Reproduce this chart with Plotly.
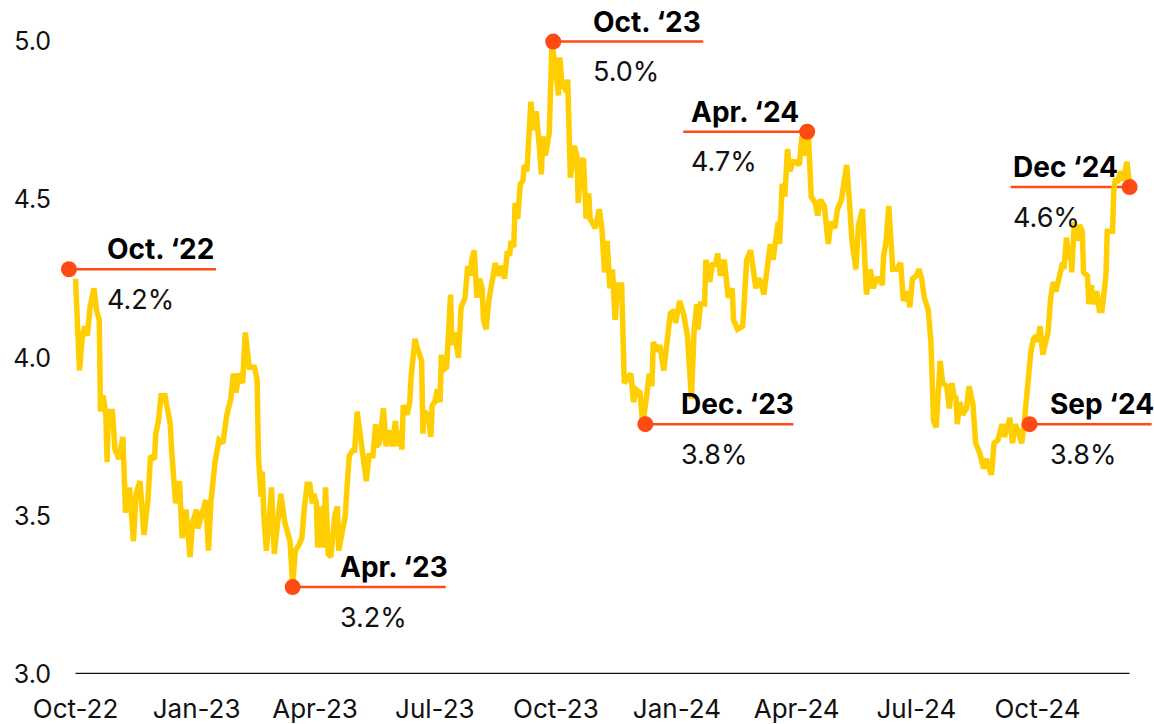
import plotly.graph_objects as go

dates = [
"2022-10-01","2022-10-04","2022-10-06","2022-10-08","2022-10-10","2022-10-12","2022-10-15","2022-10-17","2022-10-19","2022-10-20",
"2022-10-22","2022-10-24","2022-10-25","2022-10-26","2022-10-29","2022-10-31","2022-11-03","2022-11-06","2022-11-08","2022-11-11",
"2022-11-14","2022-11-16","2022-11-19","2022-11-22","2022-11-25","2022-11-27","2022-11-30","2022-12-01","2022-12-03","2022-12-05",
"2022-12-08","2022-12-12","2022-12-13","2022-12-14","2022-12-16","2022-12-19","2022-12-21","2022-12-24","2022-12-27","2022-12-29",
"2023-01-01","2023-01-02","2023-01-05","2023-01-08","2023-01-10","2023-01-12","2023-01-15","2023-01-18","2023-01-21","2023-01-24",
"2023-01-27","2023-01-29","2023-01-31","2023-02-02","2023-02-05","2023-02-07","2023-02-10","2023-02-14","2023-02-16","2023-02-17",
"2023-02-19","2023-02-20","2023-02-21","2023-02-23","2023-02-25","2023-02-27","2023-03-01","2023-03-04","2023-03-06","2023-03-09",
"2023-03-13","2023-03-15","2023-03-17","2023-03-20","2023-03-22","2023-03-24","2023-03-26","2023-03-28","2023-03-30","2023-03-31",
"2023-04-02","2023-04-03","2023-04-05","2023-04-07","2023-04-09","2023-04-11","2023-04-13","2023-04-16","2023-04-18","2023-04-19",
"2023-04-22","2023-04-24","2023-04-25","2023-04-27","2023-04-30","2023-05-01","2023-05-03","2023-05-06","2023-05-10","2023-05-12",
"2023-05-15","2023-05-17","2023-05-18","2023-05-20","2023-05-23","2023-05-25","2023-05-27","2023-05-30","2023-06-01","2023-06-03",
"2023-06-04","2023-06-06","2023-06-07","2023-06-10","2023-06-12","2023-06-13","2023-06-15","2023-06-16","2023-06-17","2023-06-21",
"2023-06-22","2023-06-23","2023-06-26","2023-06-28","2023-06-29","2023-07-01","2023-07-03","2023-07-05","2023-07-06","2023-07-07",
"2023-07-10","2023-07-11","2023-07-13","2023-07-14","2023-07-16","2023-07-19","2023-07-21","2023-07-24","2023-07-26","2023-07-28",
"2023-07-29","2023-07-31","2023-08-02","2023-08-04","2023-08-06","2023-08-07","2023-08-09","2023-08-11","2023-08-13","2023-08-16",
"2023-08-18","2023-08-21","2023-08-23","2023-08-25","2023-08-27","2023-08-28","2023-08-30","2023-08-31","2023-09-02","2023-09-04",
"2023-09-06","2023-09-07","2023-09-09","2023-09-10","2023-09-12","2023-09-14","2023-09-16","2023-09-18","2023-09-20","2023-09-21",
"2023-09-23","2023-09-26","2023-09-28","2023-09-30","2023-10-01","2023-10-03","2023-10-04","2023-10-06","2023-10-07","2023-10-09",
"2023-10-10","2023-10-12","2023-10-15","2023-10-17","2023-10-18","2023-10-20","2023-10-22","2023-10-24","2023-10-26","2023-10-27",
"2023-10-31","2023-11-01","2023-11-03","2023-11-05","2023-11-07","2023-11-09","2023-11-11","2023-11-13","2023-11-15","2023-11-17",
"2023-11-20","2023-11-22","2023-11-25","2023-11-27","2023-11-29","2023-12-01","2023-12-04","2023-12-06","2023-12-09","2023-12-11",
"2023-12-13","2023-12-14","2023-12-17","2023-12-19","2023-12-22","2023-12-25","2023-12-27","2023-12-30","2023-12-31","2024-01-03",
"2024-01-06","2024-01-09","2024-01-12","2024-01-14","2024-01-16","2024-01-17","2024-01-19","2024-01-22","2024-01-23","2024-01-26",
"2024-01-28","2024-01-30","2024-02-01","2024-02-03","2024-02-06","2024-02-09","2024-02-12","2024-02-13","2024-02-16","2024-02-20",
"2024-02-23","2024-02-26","2024-02-28","2024-03-01","2024-03-03","2024-03-05","2024-03-07","2024-03-10","2024-03-12","2024-03-14",
"2024-03-16","2024-03-18","2024-03-19","2024-03-21","2024-03-23","2024-03-25","2024-03-27","2024-03-29","2024-03-31","2024-04-03",
"2024-04-05","2024-04-07","2024-04-10","2024-04-12","2024-04-15","2024-04-17","2024-04-19","2024-04-22","2024-04-25","2024-04-27",
"2024-04-30","2024-05-02","2024-05-05","2024-05-09","2024-05-11","2024-05-13","2024-05-16","2024-05-18","2024-05-21","2024-05-22",
"2024-05-24","2024-05-27","2024-05-29","2024-06-01","2024-06-03","2024-06-05","2024-06-06","2024-06-08","2024-06-10","2024-06-13",
"2024-06-16","2024-06-19","2024-06-21","2024-06-24","2024-06-26","2024-06-28","2024-07-01","2024-07-03","2024-07-05","2024-07-07",
"2024-07-10","2024-07-12","2024-07-14","2024-07-16","2024-07-19","2024-07-21","2024-07-24","2024-07-26","2024-07-28","2024-07-30",
"2024-07-31","2024-08-01","2024-08-03","2024-08-05","2024-08-08","2024-08-10","2024-08-13","2024-08-15","2024-08-18","2024-08-21",
"2024-08-23","2024-08-27","2024-08-29","2024-09-01","2024-09-04","2024-09-06","2024-09-08","2024-09-10","2024-09-12","2024-09-14",
"2024-09-16","2024-09-19","2024-09-21","2024-09-23","2024-09-25","2024-09-26","2024-09-28","2024-09-30","2024-10-01","2024-10-03",
"2024-10-05","2024-10-08","2024-10-09","2024-10-11","2024-10-13","2024-10-15","2024-10-17","2024-10-20","2024-10-21","2024-10-23",
"2024-10-25","2024-10-26","2024-10-27","2024-10-29","2024-10-31","2024-11-02","2024-11-04","2024-11-05","2024-11-08","2024-11-09",
"2024-11-11","2024-11-12","2024-11-15","2024-11-17","2024-11-19","2024-11-22","2024-11-23","2024-11-27","2024-11-28","2024-11-29",
"2024-12-01","2024-12-03","2024-12-05","2024-12-08","2024-12-09","2024-12-10"]

yields = [
4.25,3.96,4.06,4.10,4.07,4.16,4.22,4.15,4.12,3.83,
3.88,3.82,3.67,3.83,3.83,3.71,3.68,3.75,3.51,3.59,
3.42,3.57,3.61,3.44,3.55,3.69,3.68,3.76,3.80,3.88,
3.88,3.79,3.71,3.65,3.54,3.61,3.43,3.52,3.37,3.48,
3.52,3.46,3.50,3.55,3.39,3.55,3.67,3.74,3.73,3.82,
3.87,3.95,3.89,3.95,3.92,4.08,3.97,3.97,3.93,3.69,
3.56,3.64,3.51,3.39,3.48,3.59,3.38,3.49,3.57,3.48,
3.42,3.28,3.39,3.41,3.43,3.53,3.60,3.60,3.54,3.57,
3.54,3.40,3.53,3.40,3.59,3.38,3.37,3.50,3.53,3.39,
3.47,3.50,3.57,3.69,3.71,3.70,3.83,3.74,3.61,3.69,
3.69,3.79,3.72,3.73,3.84,3.72,3.77,3.72,3.80,3.72,
3.77,3.71,3.85,3.82,3.86,3.94,4.05,4.06,4.04,3.99,
3.76,3.83,3.82,3.75,3.85,3.86,3.90,3.86,4.01,3.96,
3.97,4.08,4.20,4.04,4.08,4.00,4.16,4.19,4.29,4.26,
4.31,4.34,4.19,4.25,4.22,4.12,4.09,4.18,4.24,4.30,
4.26,4.29,4.25,4.33,4.33,4.37,4.35,4.49,4.44,4.55,
4.56,4.61,4.59,4.68,4.81,4.72,4.78,4.69,4.58,4.70,
4.64,4.71,4.99,4.94,4.90,4.83,4.95,4.85,4.87,4.84,
4.88,4.57,4.67,4.64,4.49,4.62,4.63,4.44,4.52,4.44,
4.41,4.43,4.47,4.41,4.27,4.37,4.22,4.28,4.12,4.23,
4.23,3.92,3.94,3.95,3.86,3.90,3.89,3.79,3.88,3.95,
3.91,4.05,4.02,4.04,3.96,4.05,4.14,4.15,4.11,4.18,
4.14,4.07,3.87,4.08,4.17,4.09,4.17,4.17,4.31,4.24,
4.30,4.29,4.33,4.26,4.31,4.19,4.22,4.12,4.09,4.10,
4.31,4.34,4.27,4.22,4.25,4.24,4.20,4.29,4.36,4.31,
4.39,4.43,4.36,4.55,4.51,4.66,4.59,4.62,4.62,4.61,
4.70,4.64,4.70,4.51,4.49,4.45,4.50,4.48,4.36,4.43,
4.41,4.47,4.50,4.61,4.50,4.37,4.28,4.42,4.47,4.37,
4.20,4.28,4.22,4.25,4.25,4.23,4.32,4.37,4.48,4.28,
4.28,4.30,4.18,4.21,4.16,4.25,4.26,4.28,4.25,4.19,
4.15,4.05,3.80,3.78,3.99,3.92,3.91,3.84,3.92,3.87,
3.88,3.79,3.86,3.82,3.84,3.91,3.85,3.73,3.70,3.65,
3.68,3.63,3.73,3.74,3.79,3.75,3.78,3.81,3.73,3.79,
3.77,3.73,3.80,3.89,3.94,4.02,4.06,4.07,4.05,4.10,
4.01,4.07,4.08,4.19,4.24,4.21,4.25,4.30,4.28,4.38,
4.31,4.35,4.27,4.43,4.37,4.42,4.40,4.27,4.26,4.17,
4.23,4.17,4.21,4.15,4.15,4.26,4.40,4.40,4.53,4.56,
4.56,4.59,4.56,4.62,4.58,4.56]

# Callouts
callout_titles = ["Oct. ‘22", "Apr. ‘23", "Oct. ‘23", "Dec. ‘23", "Apr. ‘24", "Sep ‘24", "Dec ‘24"]
callout_values = ["4.2%", "3.2%", "5.0%", "3.8%", "4.7%", "3.8%", "4.6%"]
callout_dates = ["2022-09-26", "2023-03-15", "2023-09-29", "2023-12-08", "2024-04-09", "2024-09-25", "2024-12-10"]
callout_yields = [4.28, 3.275, 5.0, 3.79, 4.715, 3.79, 4.54]

tick_dates = ["2022-10-01", "2023-01-01", "2023-04-01", "2023-07-01", "2023-10-01",
              "2024-01-01", "2024-04-01", "2024-07-01", "2024-10-01"]
tick_labels = ["Oct-22", "Jan-23", "Apr-23", "Jul-23", "Oct-23", "Jan-24", "Apr-24", "Jul-24", "Oct-24"]
y_ticks = [3.0, 3.5, 4.0, 4.5, 5.0]

# styling (pixel offsets of callout leader lines and text)
line_offsets = [(0, 147), (0, 153), (0, 150), (0, 148), (-124, 0), (0, 122), (-119, 0)]
text_offsets = [38, 47, 40, 36, -116, 20, -117]

YELLOW = "#FFCE00"
ORANGE = "#FF4A14"
FONT = "Inter"

fig = go.Figure()
fig.add_trace(go.Scatter(x=dates, y=yields, mode="lines",
                         line=dict(color=YELLOW, width=5.5, shape="linear"),
                         hoverinfo="skip", showlegend=False))
fig.add_trace(go.Scatter(x=callout_dates, y=callout_yields, mode="markers",
                         marker=dict(color=ORANGE, size=16), cliponaxis=False,
                         hoverinfo="skip", showlegend=False))

# baseline axis line spanning the data period
fig.add_shape(type="line", xref="x", yref="y", x0=dates[0], x1=dates[-1], y0=3.0, y1=3.0,
              line=dict(color="#111111", width=2.5), layer="below")

for d, v, (l0, l1), tdx, t, val in zip(callout_dates, callout_yields, line_offsets,
                                       text_offsets, callout_titles, callout_values):
    fig.add_shape(type="line", xref="x", yref="y", xsizemode="pixel", xanchor=d,
                  x0=l0, x1=l1, y0=v, y1=v, line=dict(color=ORANGE, width=2.5), layer="below")
    fig.add_annotation(x=d, y=v, xref="x", yref="y", text="<b>" + t + "</b>", showarrow=False,
                       xanchor="left", yanchor="middle", xshift=tdx - 2, yshift=20,
                       font=dict(family=FONT, size=28, color="#000000"))
    fig.add_annotation(x=d, y=v, xref="x", yref="y", text=val, showarrow=False,
                       xanchor="left", yanchor="middle", xshift=tdx - 2, yshift=-30,
                       font=dict(family=FONT, size=27, color="#111111"))

fig.update_layout(
    width=1154, height=724,
    margin=dict(l=65, r=2, t=10, b=50, autoexpand=False),
    plot_bgcolor="white", paper_bgcolor="white",
    font=dict(family=FONT, size=25, color="#111111"),
    xaxis=dict(range=["2022-09-23", "2024-12-27"], tickvals=tick_dates, ticktext=tick_labels,
               showgrid=False, zeroline=False, showline=False, automargin=False,
               ticks="", ticklabelstandoff=17, tickfont=dict(size=26)),
    yaxis=dict(range=[3.0, 5.1], tickvals=y_ticks, tickformat=".1f", automargin=False,
               showgrid=False, zeroline=False, showline=False, ticks="",
               ticklabelstandoff=13, tickfont=dict(size=25)),
)

fig.write_html("out.html", config={"displayModeBar": False},
               post_script="document.body.style.margin='0';document.body.style.overflow='hidden';")
